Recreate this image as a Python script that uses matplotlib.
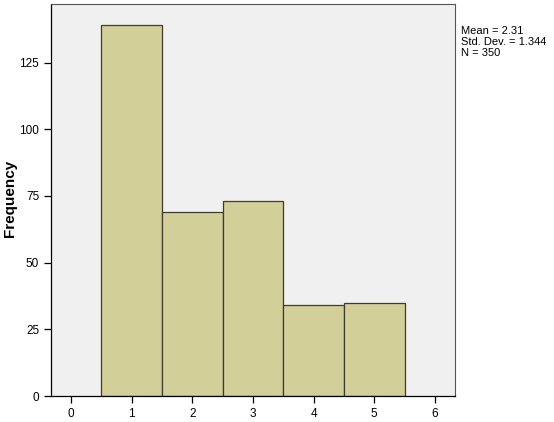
import matplotlib
matplotlib.use("Agg")
import matplotlib.pyplot as plt

plt.rcParams['font.family'] = ['Liberation Sans', 'DejaVu Sans']

# histogram data (bin centers and counts)
bins = [1, 2, 3, 4, 5]
counts = [139, 69, 73, 34, 35]
xticks = [0, 1, 2, 3, 4, 5, 6]
yticks = [0, 25, 50, 75, 100, 125]
stats_text = "Mean = 2.31\nStd. Dev. = 1.344\nN = 350"

fig = plt.figure(figsize=(5.54, 4.22), dpi=100)
ax = fig.add_axes([0.092, 0.0616, 0.729, 0.929])
ax.set_facecolor('#f0f0f0')

ax.bar(bins, counts, width=1.0, color='#d3cf99', edgecolor='#3c3c30', linewidth=0.9)

ax.set_xlim(-0.33, 6.33)
ax.set_ylim(0, 147)
ax.set_xticks(xticks)
ax.set_yticks(yticks)
ax.tick_params(direction='out', length=5, width=0.9, labelsize=8.5, colors='black')

for side in ['left', 'bottom']:
    ax.spines[side].set_color('black')
    ax.spines[side].set_linewidth(0.9)
for side in ['top', 'right']:
    ax.spines[side].set_color('#555555')
    ax.spines[side].set_linewidth(0.8)

fig.text(10 / 554, 1 - 198 / 422, 'Frequency', fontsize=11, fontweight='bold',
         rotation=90, va='center', ha='center')

fig.text(461 / 554, 1 - 26 / 422, stats_text, fontsize=8, va='top', ha='left',
         linespacing=1.1)

fig.savefig('out.png', dpi=100)
